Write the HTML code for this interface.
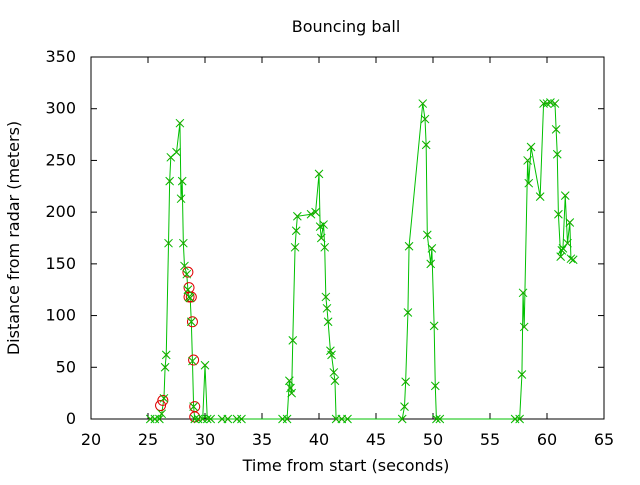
<!DOCTYPE html>
<html><head><meta charset="utf-8"><style>
body{margin:0;background:#fff}
svg text{font-family:"DejaVu Sans","Liberation Sans",sans-serif;font-size:16px;fill:#000}
</style></head><body>
<svg id="chart" width="640" height="480"></svg>
<script>
const times=[25.2,25.6,26.0,26.2,26.4,26.5,26.6,26.8,26.9,27.0,27.5,27.8,27.9,28.0,28.1,28.2,28.4,28.5,28.6,28.7,28.8,28.9,29.0,29.1,29.4,29.8,30.0,30.2,30.5,31.5,32.0,32.8,33.2,
36.8,37.2,37.4,37.5,37.6,37.7,37.9,38.0,38.1,39.3,39.7,40.0,40.1,40.2,40.4,40.5,40.6,40.7,40.8,41.0,41.1,41.3,41.4,41.5,42.0,42.5,
47.3,47.5,47.6,47.8,47.9,49.1,49.3,49.4,49.5,49.8,49.9,50.1,50.2,50.3,50.6,
57.2,57.6,57.8,57.9,58.0,58.3,58.4,58.6,59.4,59.7,60.0,60.3,60.7,60.8,60.9,61.0,61.2,61.3,61.4,61.6,61.8,62.0,62.1,62.3];
const distances=[0,0,0,5,20,50,62,170,230,253,258,286,213,230,170,148,140,125,118,117,94,56,12,0,0,0,52,0,0,0,0,0,0,
0,0,37,30,25,76,166,182,196,198,200,237,186,175,188,166,118,107,94,66,62,45,37,0,0,0,
0,12,36,103,167,305,290,265,178,150,165,90,32,0,0,
0,0,43,122,89,250,228,263,215,305,305,306,305,280,256,198,157,163,165,216,170,190,155,154];
const circleTimes=[26.1,26.3,28.5,28.6,28.6,28.8,28.9,29.0,29.1,29.1];
const circleDistances=[13,18,142,127,118,118,94,57,12,2];
const xTicks=[20,25,30,35,40,45,50,55,60,65];
const yTicks=[0,50,100,150,200,250,300,350];

const L=91,R=604,T=57,B=419;
const sx=v=>L+(v-20)/45*(R-L);
const sy=v=>B-v/350*(B-T);
const svg=document.getElementById('chart');
const NS='http://www.w3.org/2000/svg';
function mk(tag,attrs,parent){const e=document.createElementNS(NS,tag);for(const k in attrs)e.setAttribute(k,attrs[k]);(parent||svg).appendChild(e);return e;}

yTicks.forEach(v=>{
  const g=mk('g',{});
  
  
  mk('line',{x1:L,x2:L+6,y1:sy(v),y2:sy(v),stroke:'#000'},g);
  mk('line',{x1:R,x2:R-6,y1:sy(v),y2:sy(v),stroke:'#000'},g);
  const t=mk('text',{x:L-15,y:sy(v)+5,'text-anchor':'end'},g);t.textContent=v;
});
xTicks.forEach(v=>{
  const g=mk('g',{});
  
  
  mk('line',{x1:sx(v),x2:sx(v),y1:B,y2:B-6,stroke:'#000'},g);
  mk('line',{x1:sx(v),x2:sx(v),y1:T,y2:T+6,stroke:'#000'},g);
  const t=mk('text',{x:sx(v),y:B+26,'text-anchor':'middle'},g);t.textContent=v;
});
const border=mk('rect',{x:L,y:T,width:R-L,height:B-T,fill:'none',stroke:'#000'});



const pts=times.map((t,i)=>sx(t)+','+sy(distances[i])).join(' ');
const line=mk('polyline',{points:pts,fill:'none',stroke:'#00c000','stroke-width':1});



circleTimes.forEach((t,i)=>{
  const c=mk('circle',{cx:sx(t),cy:sy(circleDistances[i]),r:5,fill:'none',stroke:'#e00000'});
  
  
});
times.forEach((t,i)=>{
  const x=sx(t),y=sy(distances[i]);
  const p=mk('path',{d:`M${x-2.5},${y-2.5}L${x+2.5},${y+2.5}M${x-2.5},${y+2.5}L${x+2.5},${y-2.5}`,stroke:'#e00000'});
  
  
});
times.forEach((t,i)=>{
  const x=sx(t),y=sy(distances[i]);
  const p=mk('path',{d:`M${x-4},${y-4}L${x+4},${y+4}M${x-4},${y+4}L${x+4},${y-4}`,stroke:'#00c000'});
  
  
});

const title=mk('text',{x:346,y:32,'text-anchor':'middle'});title.textContent='Bouncing ball';


const xl=mk('text',{x:346,y:471,'text-anchor':'middle'});xl.textContent='Time from start (seconds)';


const yl=mk('text',{x:0,y:0,'text-anchor':'middle',transform:'translate(19,238) rotate(-90)'});yl.textContent='Distance from radar (meters)';


</script>
</body></html>
